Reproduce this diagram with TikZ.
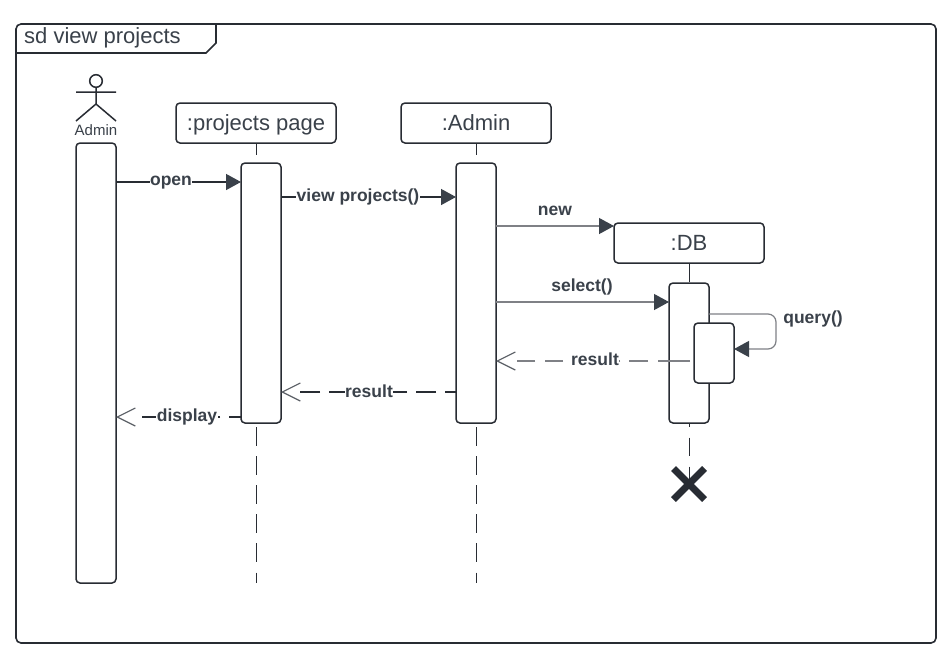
\documentclass[tikz,border=0pt]{standalone}
\usepackage{fontspec}
\setmainfont{Liberation Sans}
\usetikzlibrary{arrows.meta,calc}
\definecolor{ink}{HTML}{282C33}
\definecolor{txt}{HTML}{3A414A}
\definecolor{thin}{HTML}{7F8186}
\definecolor{barb}{HTML}{5A5E65}
\tikzset{
  box/.style={draw=ink,line width=1.5pt,rounded corners=4pt,fill=white,inner sep=0pt,outer sep=0pt,text=txt,font=\fontsize{22}{24}\selectfont},
  head/.style={box,minimum height=40pt,text height=15pt,text depth=1pt},
  act/.style={box,minimum width=40pt},
  life/.style={draw=ink,line width=0.9pt,dash pattern=on 18.5pt off 10.6pt,dash phase=7pt},
  msg/.style={draw=ink,line width=1.4pt,-{Triangle[length=15pt,width=16pt,fill=txt,color=txt]}},
  call/.style={draw=thin,line width=1.2pt,-{Triangle[length=15pt,width=16pt,fill=txt,color=txt]}},
  ret/.style={draw=ink,line width=1.4pt,-{Straight Barb[length=18pt,width=18pt,line width=1.2pt,color=barb]}},
  lbl/.style={text=txt,font=\fontsize{17.5}{19}\selectfont\bfseries,fill=white,inner xsep=0.5pt,inner ysep=0.5pt},
  lblfree/.style={lbl,fill=none},
}
\begin{document}
\begin{tikzpicture}[x=1pt,y=-1pt]
\useasboundingbox (0,0) rectangle (951,651);
\fill[white] (0,0) rectangle (951,651);
% frame
\node[draw=ink,line width=1.6pt,rounded corners=5pt,minimum width=920pt,minimum height=619pt,inner sep=0pt] (frame) at (476,333.5) {};
\draw[draw=ink,line width=1.6pt,rounded corners=0pt] (16,53) -- (206,53) -- (216,43) -- (216,24);
\node[anchor=base west,text=txt,font=\fontsize{22}{24}\selectfont,inner sep=0pt] (title) at (24,43) {sd view projects};
% actor
\draw[ink,line width=1.5pt,fill=white] (96,81) circle (6.3pt);
\draw[ink,line width=1.5pt] (96,87.3) -- (96,104) (76,92) -- (116,92) (76,121) -- (96,104) -- (116,121);
\node[text=txt,font=\fontsize{15}{16}\selectfont,inner sep=0pt] (actor) at (96,130.5) {Admin};
% heads
\node[head,minimum width=160pt] (hP) at (256,123) {:projects page};
\node[head,minimum width=150pt] (hA) at (476,123) {:Admin};
\node[head,minimum width=150pt] (hD) at (689,243) {:DB};
% lifelines
\coordinate (lP) at (256,583);
\coordinate (lA) at (476,583);
\coordinate (lD) at (689,484);
\draw[life] (hP.south) -- (lP);
\draw[life] (hA.south) -- (lA);
\draw[life,dash phase=0pt] (hD.south) -- (lD);
% activations
\node[act,minimum height=440pt] (aU) at (96,363) {};
\node[act,minimum height=260pt] (aP) at (261,293) {};
\node[act,minimum height=260pt] (aA) at (476,293) {};
\node[act,minimum height=140pt] (aD) at (689,353) {};
% y levels
\coordinate (yOpen) at (0,182);
\coordinate (yView) at (0,197);
\coordinate (yNew) at (0,226);
\coordinate (ySel) at (0,302);
\coordinate (yRes) at (0,361);
\coordinate (yRes2) at (0,392);
\coordinate (yDisp) at (0,417);
\coordinate (rEnd) at (690,361);
% messages
\draw[msg] (aU.east |- yOpen) -- (aP.west |- yOpen);
\draw[msg] (aP.east |- yView) -- (aA.west |- yView);
\draw[call] (aA.east |- yNew) -- (hD.west |- yNew);
\draw[call] (aA.east |- ySel) -- (aD.west |- ySel);
\draw[ret,dash pattern=on 11pt off 9pt on 20pt off 9pt on 20pt off 9pt on 20pt off 9pt on 20pt off 9pt on 20pt off 60pt] (aA.west |- yRes2) -- (aP.east |- yRes2);
\draw[ret,dash pattern=on 12pt off 9pt on 20pt off 9pt on 20pt off 9pt on 20pt off 60pt] (aP.west |- yDisp) -- (aU.east |- yDisp);
\draw[ret,draw=thin,line width=1.2pt,dash pattern=on 32pt off 10pt on 19pt off 9pt on 20pt off 9pt on 20pt off 8pt on 18pt off 10pt on 18pt off 60pt] (rEnd) -- (aA.east |- yRes);
% nested activation
\node[act,minimum height=60pt] (aN) at (714,353) {};
\coordinate (c1) at (776,314);
\coordinate (c2) at (776,349);
\draw[call,rounded corners=8pt] (aD.east |- c1) -- (c1) -- (c2) -- (aN.east |- c2);
% destroy
\coordinate (xC) at (689,484);
\draw[ink,line width=7pt] ($(xC)+(-15.5,-15.5)$) -- ($(xC)+(15.5,15.5)$) ($(xC)+(-15.5,15.5)$) -- ($(xC)+(15.5,-15.5)$);
% labels
\node[lbl] (tOpen) at (171,182.5) {open};
\node[lbl] (tView) at (358,196.5) {view projects()};
\node[lblfree] (tNew) at (555,211) {new};
\node[lblfree] (tSel) at (582,286.5) {select()};
\node[lblfree] (tQ) at (813,318.5) {query()};
\node[lbl] (tR1) at (595,359.5) {result};
\node[lbl] (tR2) at (369,391) {result};
\node[lbl] (tDisp) at (187,416.5) {display};
\end{tikzpicture}
\end{document}
